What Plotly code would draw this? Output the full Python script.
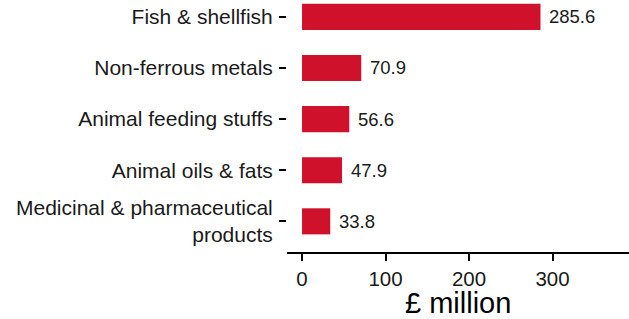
import plotly.graph_objects as go

categories = ["Medicinal & pharmaceutical<br>products", "Animal oils & fats",
              "Animal feeding stuffs", "Non-ferrous metals", "Fish & shellfish"]
values = [33.8, 47.9, 56.6, 70.9, 285.6]
x_ticks = [0, 100, 200, 300]

RED = "#D0112B"
TXT = "#1A1A1A"
FONT = "Liberation Sans, Arial, sans-serif"

fig = go.Figure()
fig.add_trace(go.Bar(
    x=values, y=categories, orientation="h",
    marker=dict(color=RED, line=dict(width=0)),
    width=0.51, hoverinfo="skip",
))

for v, c in zip(values, categories):
    fig.add_annotation(x=v, y=c, text=f"{v:.1f}", showarrow=False,
                       xanchor="left", yanchor="middle", xshift=7,
                       font=dict(family=FONT, size=18.5, color=TXT))

fig.add_annotation(xref="paper", yref="paper", x=0.5, y=-0.202,
                   text="£ million", showarrow=False,
                   xanchor="center", yanchor="middle",
                   font=dict(family=FONT, size=29, color="black"))

fig.update_layout(
    width=629, height=319,
    margin=dict(l=287, r=0, t=0, b=67),
    paper_bgcolor="white", plot_bgcolor="white",
    showlegend=False,
    font=dict(family=FONT, color=TXT),
    xaxis=dict(
        range=[-18, 391.6], tickvals=x_ticks, ticktext=[str(t) for t in x_ticks],
        showgrid=False, zeroline=False, automargin=False,
        showline=True, linecolor="black", linewidth=2,
        ticks="outside", ticklen=7, tickwidth=2, tickcolor="black",
        tickfont=dict(family=FONT, size=20.5, color=TXT),
    ),
    yaxis=dict(
        type="category", categoryarray=categories,
        range=[-0.6, 4.33], automargin=False,
        showgrid=False, zeroline=False, showline=False,
        ticks="outside", ticklen=7, tickwidth=2, tickcolor="black",
        ticklabelstandoff=2,
        tickfont=dict(family=FONT, size=21, color=TXT),
    ),
)

fig.write_html("out.html", config={"displayModeBar": False},
               post_script="document.body.style.margin='0';document.body.style.padding='0';")
